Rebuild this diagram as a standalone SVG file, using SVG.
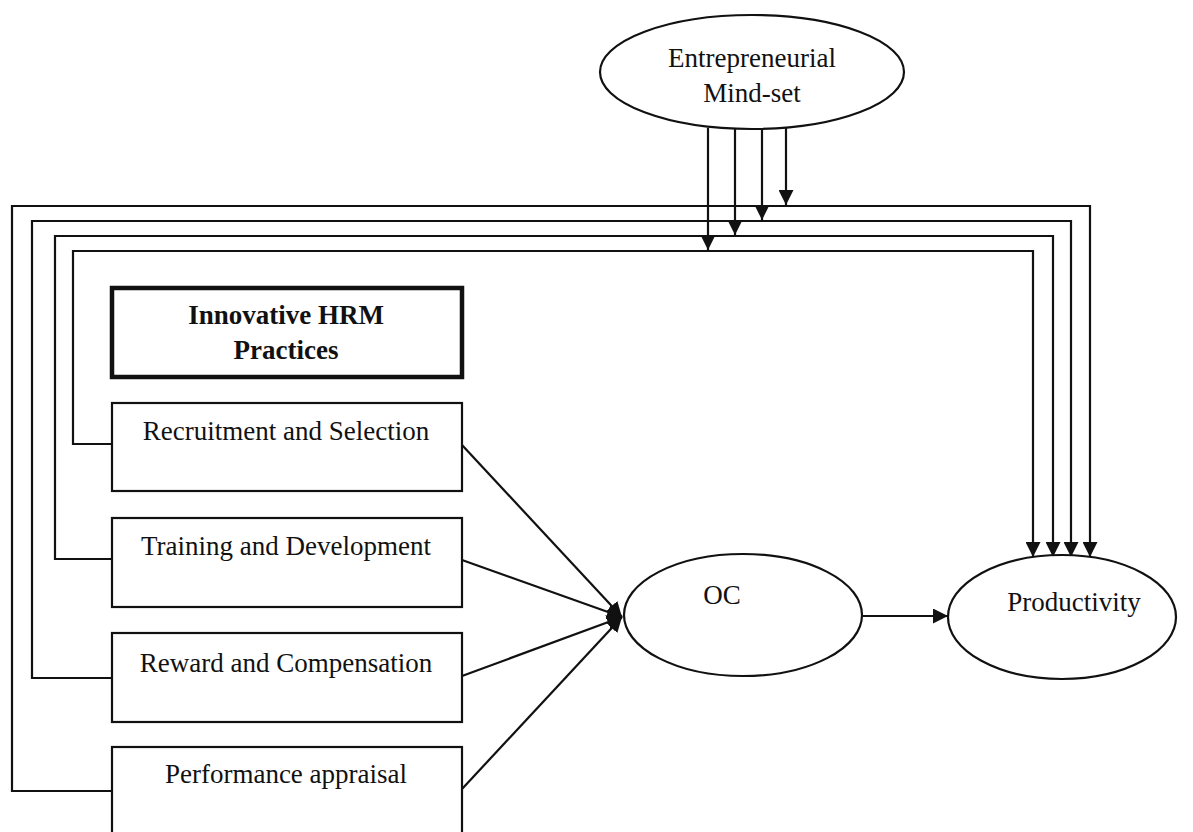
<svg xmlns="http://www.w3.org/2000/svg" width="1193" height="832" viewBox="0 0 1193 832">
<style>
.t{font-family:"Liberation Serif","Times New Roman",serif;font-size:27px;fill:#111;text-anchor:middle}
.b{font-weight:bold}
.box{fill:#fff;stroke:#111;stroke-width:2.2}
.thick{fill:#fff;stroke:#111;stroke-width:4.5}
.ell{fill:#fff;stroke:#111;stroke-width:2.2}
.c{fill:none;stroke:#111;stroke-width:2.2}
</style>
<defs>
<marker id="ah" viewBox="0 0 15 15" refX="15" refY="7.5" markerWidth="15" markerHeight="15" markerUnits="userSpaceOnUse" orient="auto">
<path d="M0,0 L15,7.5 L0,15 Z" fill="#111"/>
</marker>
</defs>
<rect width="1193" height="832" fill="#fff"/>
<g id="connectors">
<path class="c" d="M112,444 H73 V251 H1033 V557" marker-end="url(#ah)"/>
<path class="c" d="M112,559 H55 V236 H1053 V557" marker-end="url(#ah)"/>
<path class="c" d="M112,678 H32 V221 H1071 V557" marker-end="url(#ah)"/>
<path class="c" d="M112,791 H12 V206 H1090 V557" marker-end="url(#ah)"/>
<path class="c" d="M708,128 V250" marker-end="url(#ah)"/>
<path class="c" d="M735,129 V235" marker-end="url(#ah)"/>
<path class="c" d="M762,129 V220" marker-end="url(#ah)"/>
<path class="c" d="M786,127 V205" marker-end="url(#ah)"/>
<path class="c" d="M462,445 L622,617" marker-end="url(#ah)"/>
<path class="c" d="M462,560 L622,617" marker-end="url(#ah)"/>
<path class="c" d="M462,676 L622,617" marker-end="url(#ah)"/>
<path class="c" d="M462,789 L622,617" marker-end="url(#ah)"/>
<path class="c" d="M862,616 H948" marker-end="url(#ah)"/>
</g>
<g id="entrepreneurial">
<ellipse class="ell" cx="752" cy="72" rx="152" ry="57"/>
<text class="t" x="752" y="67">Entrepreneurial</text>
<text class="t" x="752" y="102">Mind-set</text>
</g>
<g id="hrm">
<rect class="thick" x="112" y="288" width="350" height="89"/>
<text class="t b" x="286" y="324">Innovative HRM</text>
<text class="t b" x="286" y="359">Practices</text>
</g>
<g id="recruitment">
<rect class="box" x="112" y="403" width="350" height="88"/>
<text class="t" x="286" y="440">Recruitment and Selection</text>
</g>
<g id="training">
<rect class="box" x="112" y="518" width="350" height="89"/>
<text class="t" x="286" y="555">Training and Development</text>
</g>
<g id="reward">
<rect class="box" x="112" y="633" width="350" height="89"/>
<text class="t" x="286" y="672">Reward and Compensation</text>
</g>
<g id="performance">
<rect class="box" x="112" y="747" width="350" height="100"/>
<text class="t" x="286" y="783">Performance appraisal</text>
</g>
<g id="oc">
<ellipse class="ell" cx="743" cy="615" rx="119" ry="61"/>
<text class="t" x="722" y="604">OC</text>
</g>
<g id="productivity">
<ellipse class="ell" cx="1062" cy="617" rx="114" ry="62"/>
<text class="t" x="1074" y="611">Productivity</text>
</g>
</svg>
